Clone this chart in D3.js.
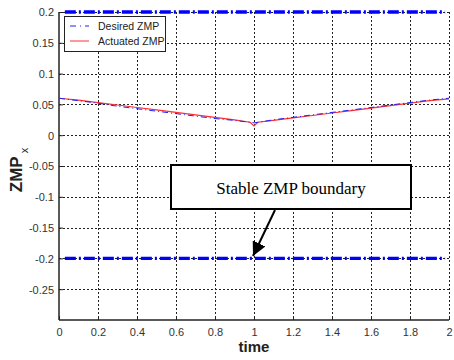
<!DOCTYPE html>
<html>
<head>
<meta charset="utf-8">
<script src="https://cdn.jsdelivr.net/npm/d3@7"></script>
<style>
  body { margin: 0; background: #fff; }
  svg { display: block; }
</style>
</head>
<body>
<div id="chart"></div>
<script>
const WIDTH = 454;
const HEIGHT = 360;
const MARGIN = { top: 12, left: 59, right: 5, bottom: 40 };

// data
const time = [0, 0.1, 0.2, 0.3, 0.4, 0.5, 0.6, 0.7, 0.8, 0.9, 0.98, 1.0, 1.02, 1.1, 1.2, 1.3, 1.4, 1.5, 1.6, 1.7, 1.8, 1.9, 2.0];
const desiredZmp = [0.060, 0.056, 0.052, 0.047, 0.043, 0.039, 0.035, 0.031, 0.027, 0.024, 0.021, 0.020, 0.021, 0.025, 0.029, 0.033, 0.037, 0.041, 0.045, 0.049, 0.053, 0.057, 0.060];
const actuatedZmp = [0.060, 0.057, 0.053, 0.049, 0.045, 0.041, 0.037, 0.033, 0.029, 0.025, 0.021, 0.015, 0.021, 0.024, 0.028, 0.032, 0.036, 0.040, 0.044, 0.048, 0.052, 0.056, 0.059];
const boundTime = [0.03, 1.98];
const upperBound = [0.2, 0.2];
const lowerBound = [-0.2, -0.2];
const xTicks = [0, 0.2, 0.4, 0.6, 0.8, 1, 1.2, 1.4, 1.6, 1.8, 2];
const yTicks = [0.2, 0.15, 0.1, 0.05, 0, -0.05, -0.1, -0.15, -0.2, -0.25];
const legendLabels = ["Desired ZMP", "Actuated ZMP"];

const svg = d3.select("#chart").append("svg")
  .attr("width", WIDTH)
  .attr("height", HEIGHT);

const x = d3.scaleLinear().domain([0, 2]).range([MARGIN.left, 449]);
const y = d3.scaleLinear().domain([-0.3, 0.2]).range([320, MARGIN.top]);

// plain hyphen minus like matlab
const fmt = d => String(+d.toFixed(2));

// grid
const grid = svg.append("g");
grid.selectAll(".vg")
  .data(xTicks.slice(1))
  .join("line")
    .attr("x1", d => x(d) + 0.5).attr("x2", d => x(d) + 0.5)
    .attr("y1", y(0.2)).attr("y2", y(-0.3))
    .attr("stroke", "#222").attr("stroke-width", 1)
    .attr("stroke-dasharray", "2,2");
grid.selectAll(".hg")
  .data(yTicks)
  .join("line")
    .attr("x1", x(0)).attr("x2", x(2))
    .attr("y1", d => Math.round(y(d)) + 0.5).attr("y2", d => Math.round(y(d)) + 0.5)
    .attr("stroke", "#222").attr("stroke-width", 1)
    .attr("stroke-dasharray", "2,2");

// axes
const xAxis = svg.append("g")
  .attr("transform", `translate(0, ${y(-0.3)})`)
  .call(d3.axisBottom(x).tickValues(xTicks).tickSize(-4).tickPadding(8).tickFormat(fmt));
const yAxis = svg.append("g")
  .attr("transform", `translate(${x(0)}, 0)`)
  .call(d3.axisLeft(y).tickValues(yTicks).tickSize(-4).tickPadding(5).tickFormat(fmt));

[xAxis, yAxis].forEach(a => {
  a.select(".domain").attr("stroke", "#222").attr("stroke-width", 1.5);
  a.selectAll(".tick line").attr("stroke", "#222");
  a.selectAll("text")
    .attr("font-family", "Arial, Liberation Sans, sans-serif")
    .attr("font-size", 11)
    .attr("fill", "#333");
});
yAxis.select(".domain").attr("d", `M0,${y(0.2)}V${y(-0.3)}`);
xAxis.select(".domain").attr("d", `M${x(0)},0H${x(2)}`);
yAxis.selectAll("text").attr("dy", "0.35em");

// bounds
const boundLine = d3.line().x(d => x(d[0])).y(d => y(d[1]));
[upperBound, lowerBound].forEach(b => {
  svg.append("path")
    .datum(boundTime.map((t, i) => [t, b[i]]))
    .attr("d", boundLine)
    .attr("fill", "none")
    .attr("stroke", "#0000ff")
    .attr("stroke-width", 3.3)
    .attr("stroke-dasharray", "11,3,2,3");
});

// series
const line = d3.line().x(d => x(d[0])).y(d => y(d[1]));
svg.append("path")
  .datum(time.map((t, i) => [t, actuatedZmp[i]]))
  .attr("d", line)
  .attr("fill", "none")
  .attr("stroke", "#ff3030")
  .attr("stroke-width", 1.2);
svg.append("path")
  .datum(time.map((t, i) => [t, desiredZmp[i]]))
  .attr("d", line)
  .attr("fill", "none")
  .attr("stroke", "#2020ff")
  .attr("stroke-width", 1)
  .attr("stroke-dasharray", "6,3,1,3");

// legend
const leg = svg.append("g").attr("transform", "translate(64, 16)");
leg.append("rect")
  .attr("x", 0.5).attr("y", 0.5)
  .attr("width", 101).attr("height", 35)
  .attr("fill", "#fff")
  .attr("stroke", "#222");
legendLabels.forEach((lab, i) => {
  const ly = 10 + i * 15;
  leg.append("line")
    .attr("x1", 6).attr("x2", 25)
    .attr("y1", ly).attr("y2", ly)
    .attr("stroke", i === 0 ? "#2020ff" : "#ff3030")
    .attr("stroke-width", 1)
    .attr("stroke-dasharray", i === 0 ? "6,4,1,4" : null);
  leg.append("text")
    .attr("x", 34).attr("y", ly + 4)
    .attr("font-family", "Arial, Liberation Sans, sans-serif")
    .attr("font-size", 10.5)
    .attr("fill", "#222")
    .text(lab);
});

// annotation
svg.append("rect")
  .attr("x", 171).attr("y", 165)
  .attr("width", 240).attr("height", 44)
  .attr("fill", "#fff")
  .attr("stroke", "#000")
  .attr("stroke-width", 2);
svg.append("text")
  .attr("x", 291).attr("y", 194)
  .attr("text-anchor", "middle")
  .attr("font-family", "Liberation Serif, Times New Roman, serif")
  .attr("font-size", 17)
  .text("Stable ZMP boundary");

svg.append("defs").append("marker")
  .attr("id", "arrow")
  .attr("viewBox", "0 0 10 10")
  .attr("refX", 10).attr("refY", 5)
  .attr("markerWidth", 7).attr("markerHeight", 7)
  .attr("markerUnits", "strokeWidth")
  .attr("orient", "auto")
  .append("path")
    .attr("d", "M0,0L10,5L0,10Z")
    .attr("fill", "#000");
svg.append("line")
  .attr("x1", 275).attr("y1", 210)
  .attr("x2", 253).attr("y2", 256)
  .attr("stroke", "#000")
  .attr("stroke-width", 2)
  .attr("marker-end", "url(#arrow)");

// axis titles
svg.append("text")
  .attr("x", x(1)).attr("y", 352)
  .attr("text-anchor", "middle")
  .attr("font-family", "Arial, Liberation Sans, sans-serif")
  .attr("font-size", 15)
  .attr("font-weight", "bold")
  .attr("fill", "#222")
  .text("time");

const yt = svg.append("text")
  .attr("transform", "translate(22, 170) rotate(-90)")
  .attr("text-anchor", "middle")
  .attr("font-family", "Arial, Liberation Sans, sans-serif")
  .attr("font-size", 17)
  .attr("font-weight", "bold")
  .attr("fill", "#222");
yt.append("tspan").text("ZMP");
yt.append("tspan")
  .attr("dy", 6)
  .attr("dx", 3)
  .attr("font-size", 11)
  .attr("font-weight", "normal")
  .text("x");
</script>
</body>
</html>
